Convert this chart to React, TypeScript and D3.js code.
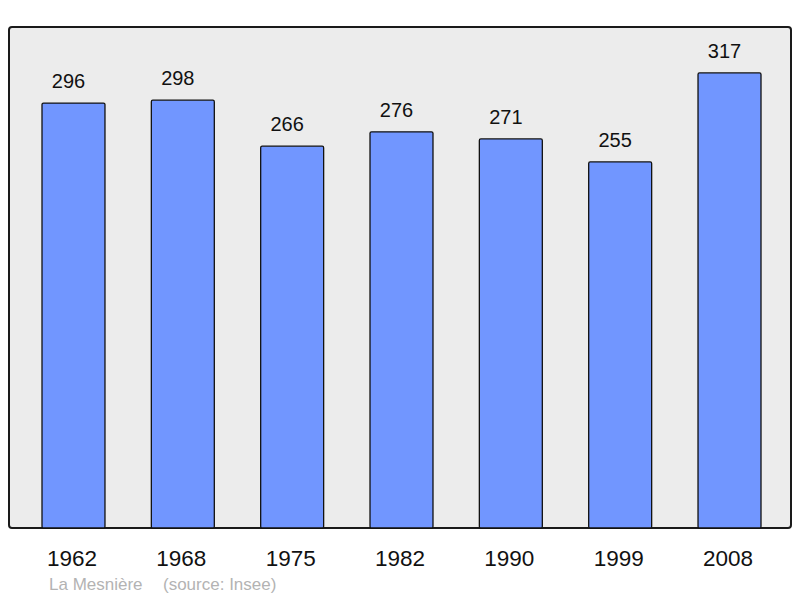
import React from "react";
import * as d3 from "d3";

const years = ["1962", "1968", "1975", "1982", "1990", "1999", "2008"];
const population = [296, 298, 266, 276, 271, 255, 317];
const commune = "La Mesnière";
const sourceNote = "(source: Insee)";

const W = 800;
const H = 598;
const panel = { left: 9, top: 27, right: 791, bottom: 528 };

const App = () => {
  const x = d3
    .scaleBand<string>()
    .domain(years)
    .range([42, 761])
    .paddingInner(0.424)
    .paddingOuter(0);

  const y = d3.scaleLinear().domain([0, 349]).range([panel.bottom, panel.top]);

  const font = "'Liberation Sans', Arial, sans-serif";

  return (
    <svg
      width={W}
      height={H}
      style={{ position: "absolute", left: 0, top: 0 }}
      fontFamily={font}
    >
      <rect x={0} y={0} width={W} height={H} fill="#fff" />
      <rect
        x={panel.left}
        y={panel.top}
        width={panel.right - panel.left}
        height={panel.bottom - panel.top}
        rx={3}
        fill="#ececec"
        stroke="#1a1a1a"
        strokeWidth={2}
      />
      {years.map((yr, i) => {
        const v = population[i];
        const bx = x(yr)!;
        const bw = x.bandwidth();
        return (
          <g key={yr}>
            <rect
              x={bx}
              y={y(v)}
              width={bw}
              height={y(0) - y(v)}
              rx={1.5}
              fill="#7196ff"
              stroke="#111"
              strokeWidth={1.3}
            />
            <text
              x={bx + bw / 2 - 5}
              y={y(v) - 15}
              textAnchor="middle"
              fontSize={20}
              fill="#111"
            >
              {v}
            </text>
            <text
              x={bx + bw / 2 - 1.5}
              y={565.5}
              textAnchor="middle"
              fontSize={22.5}
              fill="#111"
            >
              {yr}
            </text>
          </g>
        );
      })}
      <text x={49} y={590} fontSize={17} fill="#b3b3b3">
        {commune}
      </text>
      <text x={163} y={590} fontSize={17} fill="#b3b3b3">
        {sourceNote}
      </text>
    </svg>
  );
};

export default App;
